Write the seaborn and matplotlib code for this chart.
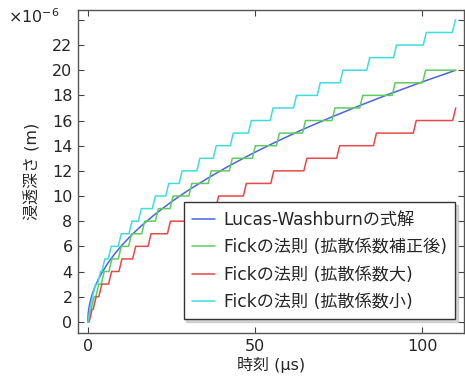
import numpy as np
import pandas as pd
import matplotlib
matplotlib.use("Agg")
import matplotlib.pyplot as plt
import seaborn as sns

# ---- data (depth in µm, time in µs) ----
lw_t = [0, 0.1, 0.25, 0.5, 1, 1.5, 2, 3, 4, 6, 8, 10, 13, 16, 20, 25, 30, 36, 42,
        49, 56, 64, 72, 81, 90, 100, 110]
lw_h = [0, 0.60, 0.95, 1.35, 1.91, 2.34, 2.70, 3.30, 3.81, 4.67, 5.39, 6.03, 6.88,
        7.63, 8.53, 9.54, 10.45, 11.44, 12.36, 13.35, 14.27, 15.26, 16.18, 17.16,
        18.09, 19.07, 20.0]

# time (µs) at which each 1 µm step begins
green_steps = [0.25, 1.0, 2.4, 4.0, 6.3, 9.1, 12.2, 16.1, 20.2, 24.6, 30.2, 36.0,
               42.3, 49.2, 56.4, 64.2, 73.0, 81.3, 91.0, 100.1]
red_steps = [0.4, 1.6, 3.3, 6.2, 9.3, 13.4, 18.0, 23.8, 30.8, 38.2, 46.5, 54.7,
             64.6, 74.4, 85.4, 97.3, 109.1]
cyan_steps = [0.1, 0.6, 1.4, 2.9, 4.2, 6.1, 9.1, 12.3, 15.1, 19.3, 23.3, 27.3,
              32.6, 37.5, 42.6, 48.0, 54.5, 61.5, 68.6, 75.4, 83.4, 91.4, 100.3, 109.0]
t_end = 110.0

labels = ["Lucas-Washburnの式解", "Fickの法則 (拡散係数補正後)",
          "Fickの法則 (拡散係数大)", "Fickの法則 (拡散係数小)"]
colors = ["#4a63e8", "#5fcc5f", "#e84848", "#3ddede"]

RISE = 0.9


def staircase(steps, tend):
    xs, ys = [0.0], [0.0]
    for i, s in enumerate(steps):
        nxt = steps[i + 1] if i + 1 < len(steps) else tend
        e = min(s + RISE, nxt, tend)
        xs += [s, e]
        ys += [float(i), float(i + 1)]
    if xs[-1] < tend:
        xs.append(tend)
        ys.append(ys[-1])
    return xs, ys


frames = [pd.DataFrame({"t": lw_t, "h": lw_h, "s": labels[0]})]
for lab, st in zip(labels[1:], [green_steps, red_steps, cyan_steps]):
    xs, ys = staircase(st, t_end)
    frames.append(pd.DataFrame({"t": xs, "h": ys, "s": lab}))
df = pd.concat(frames, ignore_index=True)

sns.set_style("ticks")
plt.rcParams["font.family"] = ["DejaVu Sans", "Noto Sans CJK JP"]
plt.rcParams["font.size"] = 11.5

fig = plt.figure(figsize=(4.65, 3.78), dpi=100)
ax = fig.add_axes([0.168, 0.118, 0.83, 0.856])

for lab, col in zip(labels, colors):
    d = df[df["s"] == lab]
    sns.lineplot(x=d["t"].values, y=d["h"].values, ax=ax, color=col, lw=1.1,
                 estimator=None, sort=False, label=lab)

ax.set_xlim(-2.9, 112.5)
ax.set_ylim(-0.92, 24.8)
ax.set_xticks([0, 50, 100])
ax.set_yticks(list(range(0, 25, 2)))
ax.set_yticklabels([str(v) if v < 24 else "" for v in range(0, 25, 2)])
ax.tick_params(direction="in", length=4, width=0.8, color="#444444",
               top=True, right=True, labelsize=11.5, pad=4)
for sp in ax.spines.values():
    sp.set_color("#555555")
    sp.set_linewidth(1.0)
ax.set_xlabel("時刻 (µs)", fontsize=11.5, labelpad=2)
ax.set_ylabel("浸透深さ (m)", fontsize=11.5, labelpad=8)
fig.text(0.018, 0.955, "×10$^{-6}$", fontsize=11.5, ha="left", va="center")

leg = ax.legend(loc="lower right", bbox_to_anchor=(0.977, 0.043), frameon=True,
                shadow={"color": "#b0b0b0", "ox": 2, "oy": -2}, fancybox=False,
                handlelength=1.35, fontsize=12.3,
                borderpad=0.5, labelspacing=0.55, handletextpad=0.5,
                borderaxespad=0)
leg.get_frame().set_edgecolor("#333333")
leg.get_frame().set_linewidth(1.0)

fig.savefig("out.png", dpi=100)
